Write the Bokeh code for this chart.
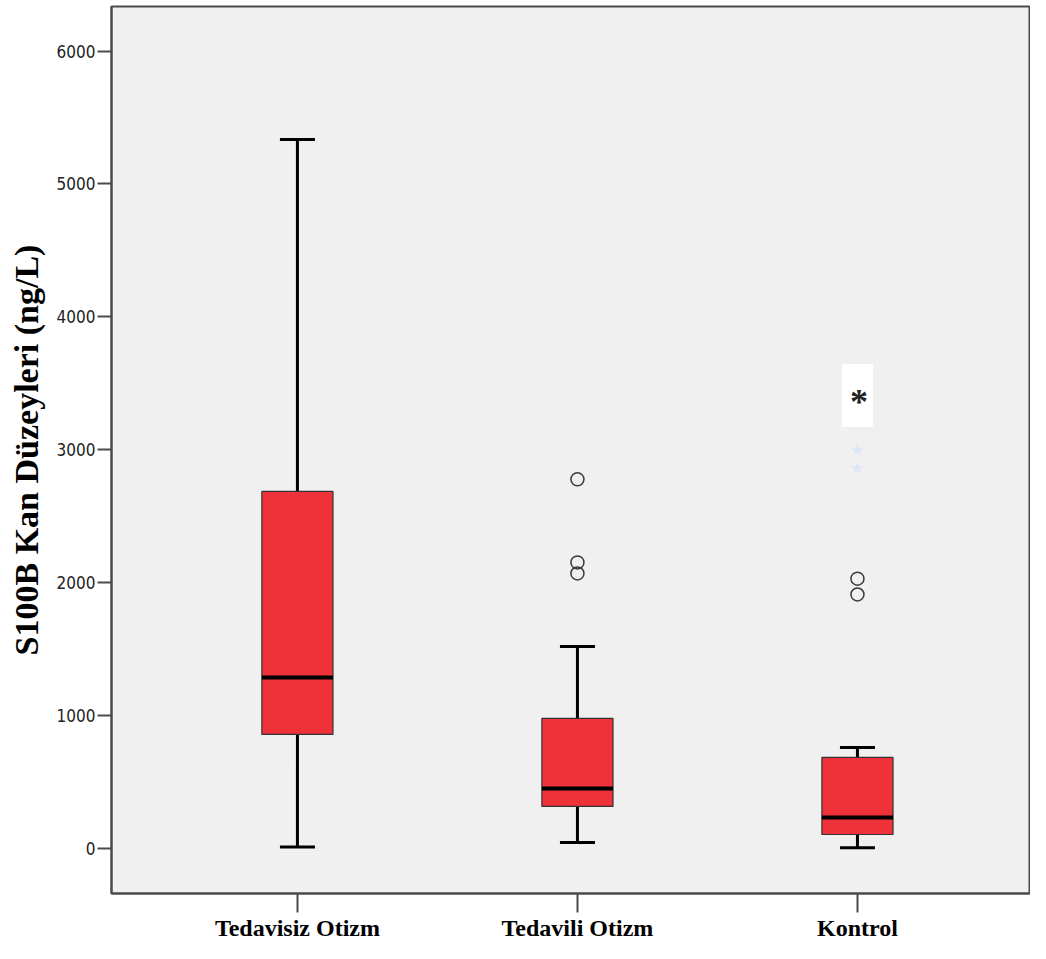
from bokeh.plotting import figure
from bokeh.models import FixedTicker, ColumnDataSource
from bokeh.embed import file_html
from bokeh.resources import INLINE
from bokeh.core.properties import value

# ---- data ----
groups = ["Tedavisiz Otizm", "Tedavili Otizm", "Kontrol"]
x_pos = [1, 2, 3]
lower = [10, 45, 5]
q1 = [858, 316, 105]
median = [1287, 451, 233]
q3 = [2686, 978, 685]
upper = [5335, 1519, 760]

outlier_x = [2, 2, 2, 3, 3]
outlier_y = [2777, 2152, 2069, 2030, 1911]

extreme_x = [3]
extreme_y = [3424]
faint_x = [3, 3]
faint_y = [2995, 2860]

y_ticks = [0, 1000, 2000, 3000, 4000, 5000, 6000]

box_w = 0.254
cap_w = 0.125

p = figure(width=1030, height=943, output_backend="svg", toolbar_location=None,
           x_range=(0.336, 3.618), y_range=(-339, 6335),
           min_border_left=111, min_border_right=0, min_border_top=6, min_border_bottom=50)

p.background_fill_color = "#F0F0F0"
p.border_fill_color = "white"
p.outline_line_color = "#4a4a4a"
p.outline_line_width = 2
p.grid.visible = False

src = ColumnDataSource(dict(x=x_pos, lower=lower, q1=q1, med=median, q3=q3, upper=upper,
                            left=[v - box_w / 2 for v in x_pos], right=[v + box_w / 2 for v in x_pos],
                            cl=[v - cap_w / 2 for v in x_pos], cr=[v + cap_w / 2 for v in x_pos]))

# whiskers
p.segment(x0="x", y0="lower", x1="x", y1="q1", source=src, line_color="black", line_width=3)
p.segment(x0="x", y0="q3", x1="x", y1="upper", source=src, line_color="black", line_width=3)
p.segment(x0="cl", y0="lower", x1="cr", y1="lower", source=src, line_color="black", line_width=3)
p.segment(x0="cl", y0="upper", x1="cr", y1="upper", source=src, line_color="black", line_width=3)

# boxes
p.quad(left="left", right="right", bottom="q1", top="q3", source=src,
       fill_color="#EF323A", line_color="#333333", line_width=1.2)
p.segment(x0="left", y0="med", x1="right", y1="med", source=src, line_color="black", line_width=4)

# outliers
p.scatter(outlier_x, outlier_y, marker="circle", size=13, fill_color=None,
          line_color="#3a3a3a", line_width=1.5)

# faint artifacts
p.scatter(faint_x, faint_y, marker="star", size=14, fill_color="#DCE7F6", line_color=None)

# extreme value
p.text(x=extreme_x, y=extreme_y, text=["*"], text_align="center", text_baseline="middle",
       text_font=value("Liberation Serif"), text_font_style="bold", text_font_size="36px",
       text_color="#222222", background_fill_color="white", padding=(8, 5, 18, 5),
       y_offset=2)

# axes
p.yaxis.ticker = FixedTicker(ticks=y_ticks)
p.yaxis.minor_tick_line_color = None
p.yaxis.major_tick_in = 0
p.yaxis.major_tick_out = 14
p.yaxis.major_tick_line_color = "#4a4a4a"
p.yaxis.major_tick_line_width = 2
p.yaxis.axis_line_color = "#4a4a4a"
p.yaxis.axis_line_width = 2
p.yaxis.major_label_standoff = 2
p.yaxis.major_label_text_font = "DejaVu Sans Condensed, sans-serif"
p.yaxis.major_label_text_font_size = "17px"
p.yaxis.major_label_text_color = "#222222"
p.yaxis.axis_label = "S100B Kan Düzeyleri (ng/L)"
p.yaxis.axis_label_text_font = "Liberation Serif"
p.yaxis.axis_label_text_font_style = "bold"
p.yaxis.axis_label_text_font_size = "34px"
p.yaxis.axis_label_text_color = "black"
p.yaxis.axis_label_standoff = 9

p.xaxis.ticker = FixedTicker(ticks=x_pos)
p.xaxis.major_label_overrides = {x: g for x, g in zip(x_pos, groups)}
p.xaxis.minor_tick_line_color = None
p.xaxis.major_tick_in = 0
p.xaxis.major_tick_out = 19
p.xaxis.major_tick_line_color = "#4a4a4a"
p.xaxis.major_tick_line_width = 2
p.xaxis.axis_line_color = "#4a4a4a"
p.xaxis.axis_line_width = 2
p.xaxis.major_label_standoff = 2
p.xaxis.major_label_text_font = "Liberation Serif"
p.xaxis.major_label_text_font_style = "bold"
p.xaxis.major_label_text_font_size = "24px"
p.xaxis.major_label_text_color = "black"

open("out.html", "w").write(file_html(p, INLINE))
